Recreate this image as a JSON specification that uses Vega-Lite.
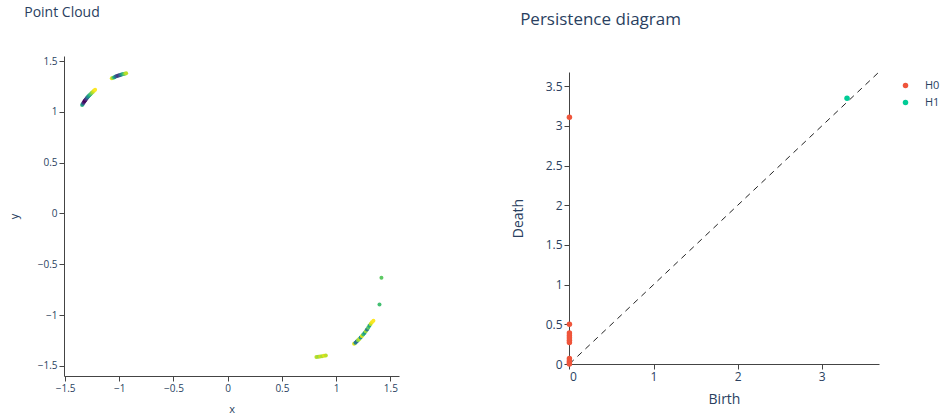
{
  "$schema": "https://vega.github.io/schema/vega-lite/v6.json",
  "background": "white",
  "padding": {"left": 8, "top": 6, "right": 0, "bottom": 0},
  "config": {
    "view": {"stroke": null},
    "font": "Open Sans",
    "axis": {"grid": false, "domainColor": "#444", "tickColor": "#444", "labelColor": "#2a3f5f", "titleColor": "#2a3f5f", "labelFont": "Open Sans", "titleFont": "Open Sans", "titleFontWeight": "normal", "tickSize": 5},
    "title": {"font": "Open Sans", "fontWeight": "normal", "color": "#2a3f5f", "anchor": "start"}
  },
  "datasets": {
    "cloud": [
      {"x": -1.343, "y": 1.067, "c": 0.65}, {"x": -1.337, "y": 1.078, "c": 0.45}, {"x": -1.330, "y": 1.090, "c": 0.15},
      {"x": -1.323, "y": 1.101, "c": 0.05}, {"x": -1.316, "y": 1.112, "c": 0.0}, {"x": -1.309, "y": 1.122, "c": 0.1},
      {"x": -1.301, "y": 1.133, "c": 0.2}, {"x": -1.293, "y": 1.143, "c": 0.35}, {"x": -1.285, "y": 1.153, "c": 0.5},
      {"x": -1.276, "y": 1.163, "c": 0.6}, {"x": -1.266, "y": 1.174, "c": 0.7}, {"x": -1.256, "y": 1.185, "c": 0.8},
      {"x": -1.245, "y": 1.196, "c": 0.88}, {"x": -1.234, "y": 1.207, "c": 0.95}, {"x": -1.223, "y": 1.218, "c": 1.0},
      {"x": -1.069, "y": 1.330, "c": 0.95}, {"x": -1.057, "y": 1.336, "c": 0.8}, {"x": -1.045, "y": 1.342, "c": 0.6},
      {"x": -1.033, "y": 1.347, "c": 0.4}, {"x": -1.021, "y": 1.352, "c": 0.25}, {"x": -1.009, "y": 1.357, "c": 0.15},
      {"x": -0.997, "y": 1.361, "c": 0.25}, {"x": -0.985, "y": 1.366, "c": 0.4}, {"x": -0.973, "y": 1.370, "c": 0.55},
      {"x": -0.961, "y": 1.373, "c": 0.7}, {"x": -0.949, "y": 1.376, "c": 0.8}, {"x": -0.937, "y": 1.379, "c": 0.9},
      {"x": 1.166, "y": -1.283, "c": 0.95}, {"x": 1.178, "y": -1.272, "c": 0.45}, {"x": 1.190, "y": -1.260, "c": 0.35},
      {"x": 1.202, "y": -1.248, "c": 0.8}, {"x": 1.214, "y": -1.235, "c": 0.9}, {"x": 1.226, "y": -1.221, "c": 0.5},
      {"x": 1.238, "y": -1.207, "c": 0.95}, {"x": 1.250, "y": -1.192, "c": 0.7}, {"x": 1.262, "y": -1.176, "c": 0.55},
      {"x": 1.273, "y": -1.160, "c": 0.85}, {"x": 1.285, "y": -1.143, "c": 0.4}, {"x": 1.296, "y": -1.125, "c": 0.75},
      {"x": 1.307, "y": -1.106, "c": 0.6}, {"x": 1.318, "y": -1.087, "c": 0.9}, {"x": 1.330, "y": -1.070, "c": 0.98},
      {"x": 1.344, "y": -1.055, "c": 1.0},
      {"x": 1.418, "y": -0.634, "c": 0.75}, {"x": 1.400, "y": -0.896, "c": 0.7},
      {"x": 0.818, "y": -1.413, "c": 0.9}, {"x": 0.835, "y": -1.411, "c": 0.85}, {"x": 0.852, "y": -1.408, "c": 0.92},
      {"x": 0.870, "y": -1.405, "c": 0.88}, {"x": 0.888, "y": -1.401, "c": 0.95}, {"x": 0.905, "y": -1.398, "c": 0.9}
    ],
    "diagram": [
      {"birth": 0, "death": 3.11, "dim": "H0"},
      {"birth": 0, "death": 0.50, "dim": "H0"},
      {"birth": 0, "death": 0.39, "dim": "H0"},
      {"birth": 0, "death": 0.36, "dim": "H0"},
      {"birth": 0, "death": 0.33, "dim": "H0"},
      {"birth": 0, "death": 0.30, "dim": "H0"},
      {"birth": 0, "death": 0.27, "dim": "H0"},
      {"birth": 0, "death": 0.07, "dim": "H0"},
      {"birth": 0, "death": 0.04, "dim": "H0"},
      {"birth": 0, "death": 0.02, "dim": "H0"},
      {"birth": 0, "death": 0.0, "dim": "H0"},
      {"birth": 3.30, "death": 3.35, "dim": "H1"}
    ],
    "diag": [{"a": 0, "b": 0, "a2": 3.68, "b2": 3.68}]
  },
  "resolve": {"scale": {"color": "independent"}, "legend": {"color": "independent"}},
  "spacing": 112,
  "hconcat": [
    {
      "width": 335,
      "height": 320,
      "title": {"text": "Point Cloud", "fontSize": 14, "dx": 16, "offset": 36},
      "data": {"name": "cloud"},
      "mark": {"type": "circle", "size": 16, "opacity": 1},
      "encoding": {
        "x": {"field": "x", "type": "quantitative", "scale": {"domain": [-1.51, 1.58], "nice": false, "zero": false},
              "axis": {"values": [-1.5, -1, -0.5, 0, 0.5, 1, 1.5], "format": "~g", "labelFontSize": 10, "titleFontSize": 11, "title": "x", "titlePadding": 10}},
        "y": {"field": "y", "type": "quantitative", "scale": {"domain": [-1.6, 1.55], "nice": false, "zero": false},
              "axis": {"values": [-1.5, -1, -0.5, 0, 0.5, 1, 1.5], "format": "~g", "labelFontSize": 10, "titleFontSize": 11, "title": "y", "titlePadding": 18}},
        "color": {"field": "c", "type": "quantitative", "scale": {"scheme": "viridis", "domain": [0, 1]}, "legend": null}
      }
    },
    {
      "title": {"text": "Persistence diagram", "fontSize": 17, "dx": 9, "offset": 27},
      "spacing": 0,
      "vconcat": [
        {
          "width": 310,
          "height": 15,
          "data": {"values": []},
          "mark": "point",
          "encoding": {}
        },
        {
          "width": 310,
          "height": 292,
          "layer": [
            {
              "data": {"name": "diag"},
              "mark": {"type": "rule", "color": "#222", "strokeDash": [6, 5], "strokeWidth": 1},
              "encoding": {
                "x": {"field": "a", "type": "quantitative", "title": "Birth", "scale": {"domain": [-0.005, 3.68], "nice": false, "zero": false},
                      "axis": {"values": [0, 1, 2, 3], "format": "~g", "labelFontSize": 12, "titleFontSize": 14, "titlePadding": 10}},
                "y": {"field": "b", "type": "quantitative", "title": "Death", "scale": {"domain": [0, 3.68], "nice": false, "zero": false},
                      "axis": {"values": [0, 0.5, 1, 1.5, 2, 2.5, 3, 3.5], "format": "~g", "labelFontSize": 12, "titleFontSize": 14, "titlePadding": 20}},
                "x2": {"field": "a2"},
                "y2": {"field": "b2"}
              }
            },
            {
              "data": {"name": "diagram"},
              "mark": {"type": "circle", "size": 30, "opacity": 1, "clip": false},
              "encoding": {
                "x": {"field": "birth", "type": "quantitative", "title": "Birth"},
                "y": {"field": "death", "type": "quantitative", "title": "Death"},
                "color": {"field": "dim", "type": "nominal", "scale": {"domain": ["H0", "H1"], "range": ["#EF553B", "#00CC96"]},
                          "legend": {"title": null, "orient": "none", "legendX": 331, "legendY": 24, "labelFontSize": 11, "labelColor": "#2a3f5f", "symbolSize": 30, "symbolType": "circle", "rowPadding": 5, "labelOffset": 14}}
              }
            }
          ]
        }
      ]
    }
  ]
}
